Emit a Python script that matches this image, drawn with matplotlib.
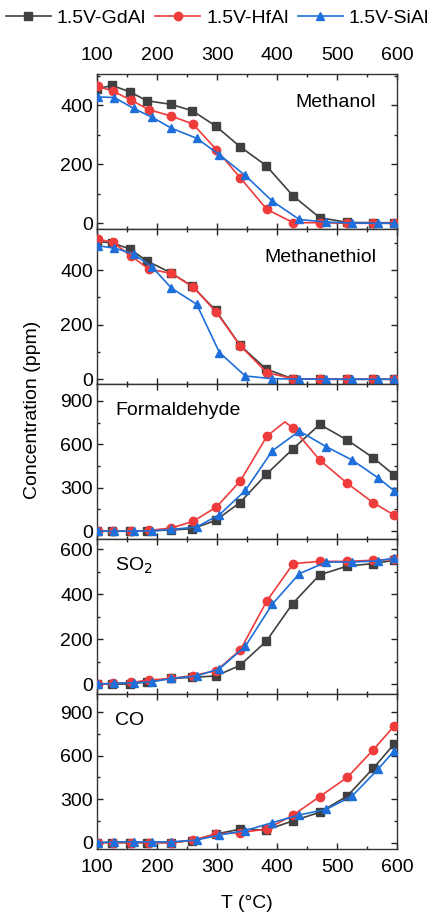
import matplotlib
matplotlib.use("Agg")
import matplotlib.pyplot as plt
from matplotlib.ticker import MultipleLocator

plt.rcParams['font.family'] = ['Liberation Sans', 'DejaVu Sans']
plt.rcParams['font.size'] = 14

names = ['1.5V-GdAl', '1.5V-HfAl', '1.5V-SiAl']
colors = ['#404040', '#EE3B3B', '#1E6FD9']
markers = ['s', 'o', '^']

# temperatures of the three series (deg C)
T_gd = [100, 125, 155, 183, 223, 259, 298, 338, 382, 426, 471, 517, 560, 595]
T_hf = [101, 126, 157, 186, 224, 260, 299, 339, 383, 427, 471, 517, 560, 595]
T_si = [101, 129, 161, 192, 224, 266, 304, 347, 392, 437, 482, 525, 568, 595]

# Methanol
meoh_gd = [455, 467, 445, 415, 403, 381, 329, 260, 195, 94, 19, 3, 2, 2]
meoh_hf = [464, 448, 417, 385, 363, 336, 249, 153, 47, 2, 2, 0, 0, 0]
meoh_si = [428, 426, 389, 359, 322, 288, 232, 162, 75, 13, 4, 1, 0, 0]

# Methanethiol
mesh_gd = [505, 500, 477, 434, 390, 340, 252, 125, 37, 2, 1, 0, 0, 0]
mesh_hf = [514, 502, 452, 404, 388, 339, 245, 122, 24, 2, 0, 0, 0, 0]
mesh_si = [489, 481, 459, 411, 334, 275, 98, 12, 2, 1, 0, 0, 0, 0]

# Formaldehyde (HfAl has an extra peak point at 413 C, no marker)
T_hf_f = [101, 126, 157, 186, 224, 260, 299, 339, 383, 413, 427, 471, 517, 560, 595]
hcho_gd = [0, 0, 0, 2, 8, 17, 75, 197, 392, 567, 737, 629, 507, 388]
hcho_hf = [0, 0, 0, 5, 22, 68, 167, 348, 656, 755, 709, 491, 330, 197, 111]
hcho_si = [0, 0, 0, 2, 12, 29, 114, 281, 555, 691, 583, 491, 369, 279]

# SO2
so2_gd = [0, 0, 0, 10, 25, 30, 36, 83, 191, 359, 487, 526, 537, 552]
so2_hf = [0, 3, 7, 18, 25, 38, 60, 153, 371, 537, 547, 547, 552, 556]
so2_si = [0, 3, 6, 10, 25, 36, 68, 168, 356, 492, 544, 544, 549, 562]

# CO
co_gd = [0, 0, 0, 0, 0, 14, 60, 92, 87, 150, 209, 322, 513, 681]
co_hf = [0, 0, 0, 0, 0, 18, 60, 69, 94, 191, 318, 451, 640, 806]
co_si = [0, 5, 5, 5, 5, 18, 53, 83, 138, 191, 230, 322, 506, 635]

panels = [
    ('Methanol', [(T_gd, meoh_gd), (T_hf, meoh_hf), (T_si, meoh_si)], (-20, 505), 200, 'right'),
    ('Methanethiol', [(T_gd, mesh_gd), (T_hf, mesh_hf), (T_si, mesh_si)], (-18, 550), 200, 'right'),
    ('Formaldehyde', [(T_gd, hcho_gd), (T_hf_f, hcho_hf), (T_si, hcho_si)], (-55, 1015), 300, 'left'),
    ('SO$_2$', [(T_gd, so2_gd), (T_hf, so2_hf), (T_si, so2_si)], (-45, 646), 200, 'left'),
    ('CO', [(T_gd, co_gd), (T_hf, co_hf), (T_si, co_si)], (-45, 1026), 300, 'left'),
]

fig, axes = plt.subplots(5, 1, sharex=True, figsize=(4.35, 9.16), dpi=100,
                         gridspec_kw={'hspace': 0})
fig.subplots_adjust(left=0.223, right=0.913, top=0.919, bottom=0.073)

for ax, (label, series, ylim, step, side) in zip(axes, panels):
    for k, (x, y) in enumerate(series):
        # skip the marker on the unmarked peak point of HfAl formaldehyde
        mk = [j for j in range(len(x)) if not (label == 'Formaldehyde' and k == 1 and j == 9)]
        ax.plot(x, y, color=colors[k], marker=markers[k], markersize=6,
                lw=1.2, markevery=mk, label=names[k], zorder=3)
    ax.set_xlim(100, 600)
    ax.set_ylim(*ylim)
    ax.yaxis.set_major_locator(MultipleLocator(step))
    ax.yaxis.set_minor_locator(MultipleLocator(step / 2))
    ax.xaxis.set_major_locator(MultipleLocator(100))
    ax.xaxis.set_minor_locator(MultipleLocator(50))
    ax.tick_params(which='both', direction='in', top=True, right=True, width=1, colors='#222222')
    ax.tick_params(which='major', length=4, labelcolor='black', pad=3)
    ax.tick_params(axis='x', which='major', pad=7)
    ax.tick_params(which='minor', length=2.5)
    for s in ax.spines.values():
        s.set_linewidth(1)
        s.set_color('#333333')
    if side == 'right':
        ax.text(0.93, 0.82, label, transform=ax.transAxes, ha='right', va='center')
    else:
        ax.text(0.06, 0.83, label, transform=ax.transAxes, ha='left', va='center')

axes[0].tick_params(labeltop=True, labelbottom=False)
axes[-1].tick_params(labelbottom=True)

fig.text(0.074, 0.553, 'Concentration (ppm)', rotation=90, ha='center', va='center')
fig.text(0.568, 0.014, 'T (\u00b0C)', ha='center', va='center')

handles, labs = axes[0].get_legend_handles_labels()
fig.legend(handles, labs, loc='center', bbox_to_anchor=(0.5, 0.980), ncol=3,
           frameon=False, handlelength=2.3, handletextpad=0.3, columnspacing=0.5,
           borderaxespad=0, fontsize=14)

fig.savefig('out.png', dpi=100)
